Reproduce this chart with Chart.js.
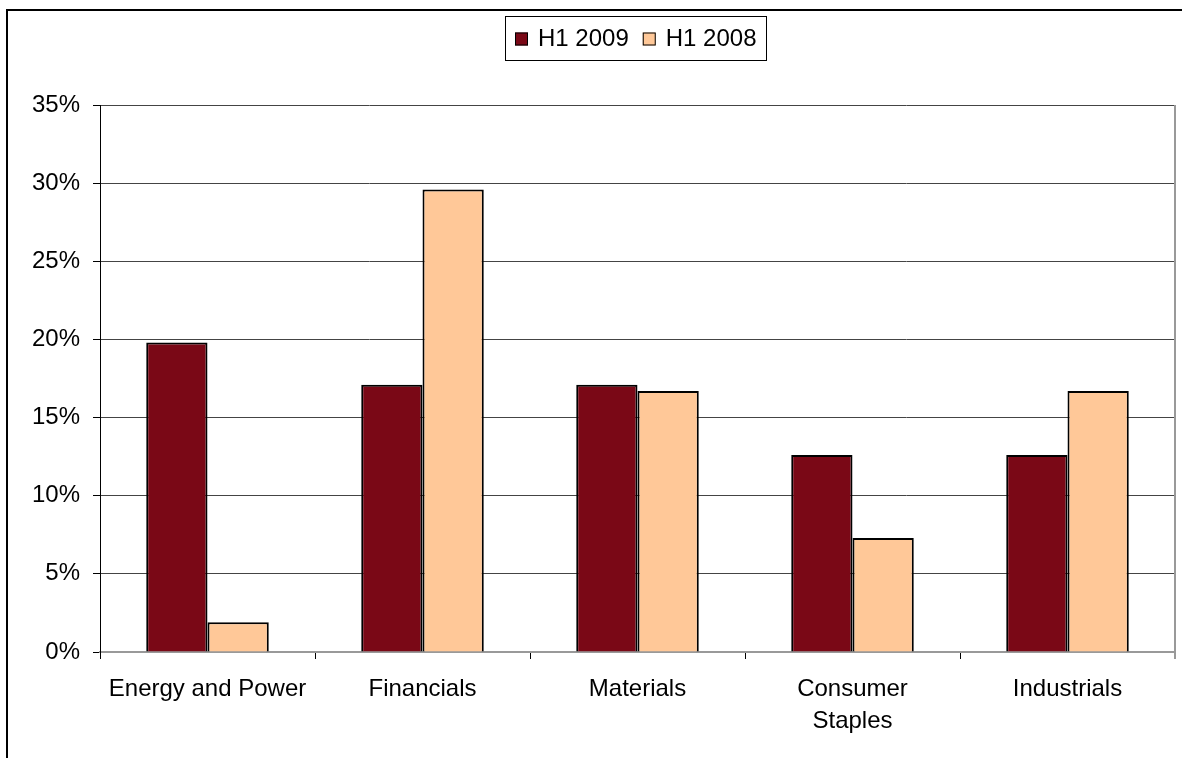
<!DOCTYPE html>
<html>
<head>
<meta charset="utf-8">
<script src="https://cdn.jsdelivr.net/npm/chart.js@4/dist/chart.umd.min.js"></script>
<style>
  html, body { margin: 0; padding: 0; background: #fff; }
  #wrap { position: relative; width: 1182px; height: 758px; }
</style>
</head>
<body>
<div id="wrap"><canvas id="chart" width="1182" height="758"></canvas></div>
<script>
// Sector share, H1 2009 vs H1 2008
const categories = ['Energy and Power', 'Financials', 'Materials', ['Consumer', 'Staples'], 'Industrials'];
const h1_2009 = [19.8, 17.1, 17.1, 12.6, 12.6];
const h1_2008 = [1.9, 29.6, 16.7, 7.3, 16.7];
const seriesNames = ['H1 2009', 'H1 2008'];
const yTicks = [0, 5, 10, 15, 20, 25, 30, 35];

const FONT = '"Liberation Sans", Arial, sans-serif';

// frame, right border of plot area, and boxed legend
const extras = {
    id: 'extras',
    beforeDraw(chart) {
        const ctx = chart.ctx;
        ctx.save();
        ctx.fillStyle = '#000';
        ctx.fillRect(6, 9, 1182, 2);
        ctx.fillRect(6, 9, 2, 758);
        ctx.restore();
    },
    afterDraw(chart) {
        const ctx = chart.ctx;
        const a = chart.chartArea;
        ctx.save();
        ctx.strokeStyle = '#999';
        ctx.lineWidth = 2;
        ctx.beginPath();
        ctx.moveTo(a.right, a.top);
        ctx.lineTo(a.right, a.bottom + 7);
        ctx.stroke();

        // legend
        ctx.font = '24px ' + FONT;
        ctx.textBaseline = 'middle';
        const ds = chart.data.datasets;
        const box = 13, gapText = 10, gapItem = 14, padX = 10;
        let w = padX * 2;
        ds.forEach((d, i) => {
            w += box + gapText + ctx.measureText(d.label).width;
            if (i < ds.length - 1) w += gapItem;
        });
        w = Math.round(w);
        const lx = Math.round((505 + 766) / 2 - w / 2), ly = 16, lh = 44;
        ctx.fillStyle = '#fff';
        ctx.fillRect(lx, ly, w, lh);
        ctx.strokeStyle = '#000';
        ctx.lineWidth = 1;
        ctx.strokeRect(lx + 0.5, ly + 0.5, w, lh);
        let x = lx + padX;
        const cy = ly + lh / 2 + 1;
        ds.forEach(d => {
            ctx.fillStyle = d.backgroundColor;
            ctx.fillRect(x, cy - box / 2, box, box);
            ctx.strokeRect(x + 0.5, cy - box / 2 + 0.5, box - 1, box - 1);
            x += box + gapText;
            ctx.fillStyle = '#000';
            ctx.fillText(d.label, x, cy);
            x += ctx.measureText(d.label).width + gapItem;
        });
        ctx.restore();
    }
};

new Chart(document.getElementById('chart'), {
    type: 'bar',
    data: {
        labels: categories,
        datasets: [
            { label: seriesNames[0], data: h1_2009, backgroundColor: '#7A0816', borderColor: '#000', borderWidth: 2 },
            { label: seriesNames[1], data: h1_2008, backgroundColor: '#FFC898', borderColor: '#000', borderWidth: 2 }
        ]
    },
    options: {
        responsive: false,
        animation: false,
        layout: { padding: { top: 105, right: 7, left: 0, bottom: 0 } },
        datasets: { bar: { barPercentage: 1, categoryPercentage: 0.57 } },
        plugins: { legend: { display: false }, tooltip: { enabled: false } },
        scales: {
            x: {
                afterFit: s => { s.height = 106; },
                grid: { offset: true, drawOnChartArea: false, tickLength: 7, tickColor: '#000', lineWidth: 1 },
                border: { color: '#999', width: 2 },
                ticks: { color: '#000', padding: 14, maxRotation: 0, autoSkip: false,
                         font: { family: FONT, size: 24, lineHeight: 1.33 } }
            },
            y: {
                min: 0, max: 35,
                afterFit: s => { s.width = 100; },
                afterBuildTicks: s => { s.ticks = yTicks.map(v => ({ value: v })); },
                grid: { color: '#444', lineWidth: 1, tickLength: 7, tickColor: '#000' },
                border: { color: '#000', width: 1 },
                ticks: { color: '#000', padding: 13, callback: v => v + '%',
                         font: { family: FONT, size: 24 } }
            }
        }
    },
    plugins: [extras]
});
</script>
</body>
</html>
